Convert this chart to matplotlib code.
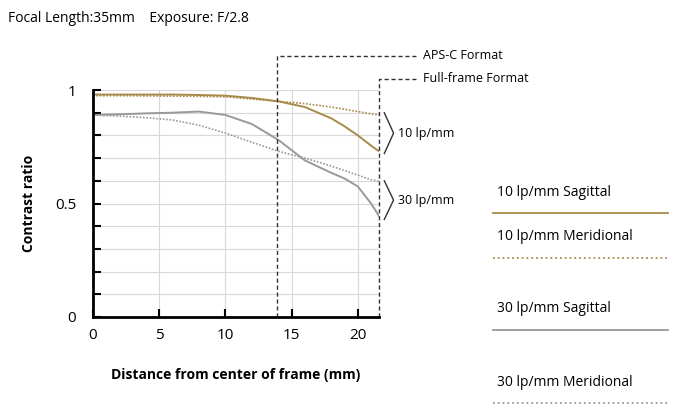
import numpy as np
import matplotlib.pyplot as plt

plt.rcParams['font.family'] = ['Open Sans', 'DejaVu Sans']

dist = [0, 2, 4, 6, 8, 10, 12, 14, 16, 18, 19, 20, 21, 21.6]
s10 = [0.98, 0.98, 0.98, 0.98, 0.978, 0.975, 0.965, 0.95, 0.925, 0.875, 0.84, 0.80, 0.755, 0.73]
m10 = [0.975, 0.975, 0.974, 0.973, 0.972, 0.97, 0.96, 0.95, 0.94, 0.925, 0.915, 0.905, 0.895, 0.89]
s30 = [0.89, 0.893, 0.897, 0.90, 0.905, 0.89, 0.85, 0.78, 0.69, 0.635, 0.61, 0.575, 0.50, 0.445]
m30 = [0.89, 0.885, 0.878, 0.868, 0.845, 0.81, 0.77, 0.73, 0.70, 0.665, 0.645, 0.625, 0.605, 0.598]

gold = "#a88a4a"
gray = "#999999"

fig = plt.figure(figsize=(6.8, 4.13), dpi=100)
ax = fig.add_axes([93/680, 1-317/413, (379-93)/680, (317-90)/413])
ax.plot(dist, s10, color=gold, lw=1.4)
ax.plot(dist, m10, color=gold, lw=1.2, ls=(0, (1, 1)))
ax.plot(dist, s30, color=gray, lw=1.4)
ax.plot(dist, m30, color=gray, lw=1.2, ls=(0, (1, 1)))
ax.set_xlim(0, 21.6)
ax.set_ylim(0, 1)
ax.set_yticks(np.arange(0, 1.01, 0.1), minor=True)
ax.set_yticks([0, 0.5, 1])
ax.set_yticklabels(["0", "0.5", "1"])
ax.set_xticks([0, 5, 10, 15, 20])
ax.grid(True, which="both", color="#d8d8d8", lw=0.8)
for s in ["top", "right"]:
    ax.spines[s].set_visible(False)
ax.spines["left"].set_linewidth(2)
ax.spines["bottom"].set_linewidth(2)
ax.tick_params(which="both", direction="in", length=6, width=1.5, labelsize=11, pad=8)
ax.tick_params(axis="y", pad=12)
ax.set_ylabel("Contrast ratio", fontsize=10, fontweight="bold", labelpad=14)
ax.set_xlabel("Distance from center of frame (mm)", fontsize=10, fontweight="bold", labelpad=18)

# format boundaries
ax.plot([13.9, 13.9, 24.5], [0, 1.15, 1.15], color="#333", lw=1, ls=(0, (3, 2)), clip_on=False)
ax.plot([21.6, 21.6, 24.5], [0, 1.05, 1.05], color="#333", lw=1, ls=(0, (3, 2)), clip_on=False)
ax.text(24.9, 1.15, "APS-C Format", fontsize=9, va="center")
ax.text(24.9, 1.05, "Full-frame Format", fontsize=9, va="center")
# braces
for y0, y1, lab in [(0.9, 0.72, "10 lp/mm"), (0.6, 0.43, "30 lp/mm")]:
    ym = (y0 + y1) / 2
    ax.plot([22.0, 22.7, 22.0], [y0, ym, y1], color="#333", lw=1, clip_on=False)
    ax.text(23.0, ym, lab, fontsize=9, va="center")

fig.text(0.012, 0.955, "Focal Length:35mm    Exposure: F/2.8", fontsize=10, va="center")

legend = [("10 lp/mm Sagittal", gold, "-", 213), ("10 lp/mm Meridional", gold, ":", 258),
          ("30 lp/mm Sagittal", gray, "-", 330), ("30 lp/mm Meridional", gray, ":", 403)]
for lab, c, ls, yl in legend:
    fig.text(497/680, 1-(yl-21)/413, lab, fontsize=10, va="center")
    fig.add_artist(plt.Line2D([493/680, 668/680], [1-yl/413]*2, color=c, lw=1.3, ls=ls))

fig.savefig("out.png", dpi=100)
